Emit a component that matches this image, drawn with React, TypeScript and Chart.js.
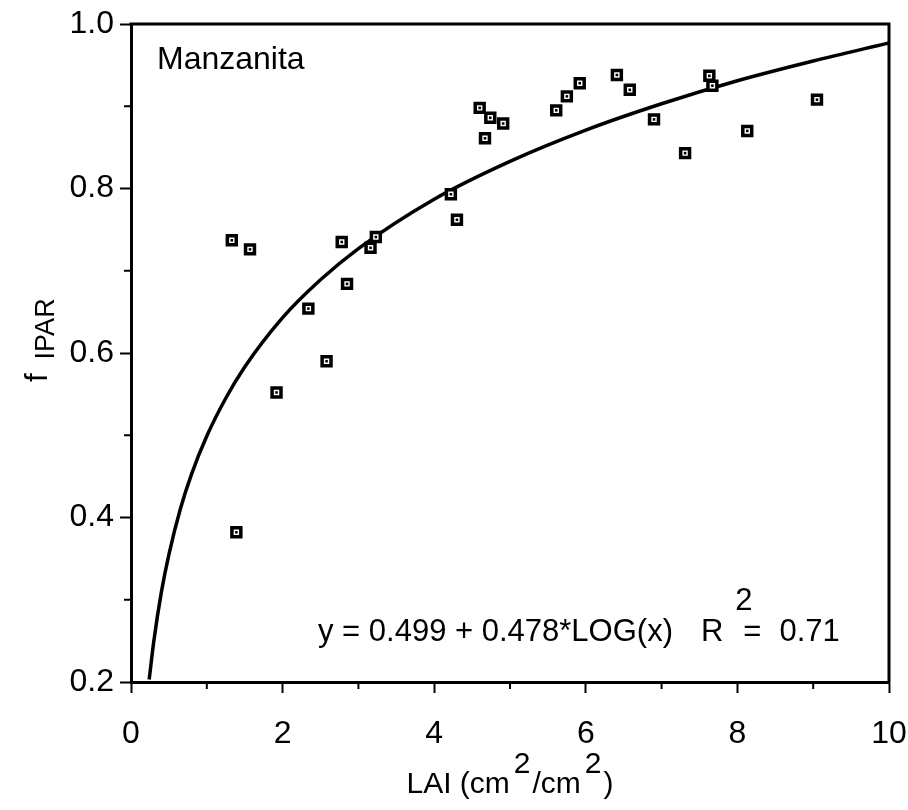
import React, { useEffect, useRef } from "react";
import { Chart, registerables } from "chart.js";

Chart.register(...registerables);

const FONT = "'Liberation Sans', Arial, Helvetica, sans-serif";

const laiValues = [1.33, 1.57, 1.39, 1.92, 2.34, 2.58, 2.78, 2.85, 3.16, 3.23, 4.22, 4.3, 4.6, 4.67, 4.74, 4.91, 5.61, 5.75, 5.92, 6.41, 6.58, 6.9, 7.31, 7.63, 7.67, 8.13, 9.05];
const fiparValues = [0.737, 0.726, 0.382, 0.552, 0.654, 0.59, 0.735, 0.684, 0.728, 0.741, 0.793, 0.762, 0.898, 0.861, 0.886, 0.879, 0.895, 0.912, 0.928, 0.938, 0.92, 0.884, 0.843, 0.937, 0.925, 0.87, 0.908];

// Fitted curve
const fitX = [0.24, 0.3, 0.4, 0.5, 0.65, 0.8, 1, 1.25, 1.5, 2, 2.5, 3, 4, 5, 6, 7, 8, 9, 10];
const fitY = [0.203, 0.249, 0.309, 0.355, 0.41, 0.453, 0.499, 0.545, 0.583, 0.643, 0.689, 0.727, 0.787, 0.833, 0.871, 0.903, 0.931, 0.955, 0.977];

// Axes
const xMin = 0;
const xMax = 10;
const yMin = 0.2;
const yMax = 1.0;
const xMinorTicks = [1, 3, 5, 7, 9];
const yMinorTicks = [0.3, 0.5, 0.7, 0.9];

// Texts
const speciesLabel = "Manzanita";
const equationText = "y = 0.499 + 0.478*LOG(x)";
const r2Label = "R";
const r2Eq = "=";
const r2Value = "0.71";

const framePlugin = {
  id: "frame",
  afterDraw(chart: any) {
    const { ctx, chartArea, scales } = chart;
    const { left, right, top, bottom } = chartArea;
    ctx.save();
    ctx.strokeStyle = "#000";
    ctx.lineWidth = 3;
    ctx.beginPath();
    ctx.moveTo(left - 1.5, top);
    ctx.lineTo(right, top);
    ctx.lineTo(right, bottom + 1.5);
    ctx.stroke();
    ctx.lineWidth = 2;
    ctx.beginPath();
    for (const v of xMinorTicks) {
      const px = scales.x.getPixelForValue(v);
      ctx.moveTo(px, bottom);
      ctx.lineTo(px, bottom + 7);
    }
    for (const v of yMinorTicks) {
      const py = scales.y.getPixelForValue(v);
      ctx.moveTo(left, py);
      ctx.lineTo(left - 7, py);
    }
    ctx.stroke();
    ctx.restore();
  },
};

const textPlugin = {
  id: "texts",
  afterDraw(chart: any) {
    const { ctx, chartArea } = chart;
    const { left, right, top, bottom } = chartArea;
    ctx.save();
    ctx.fillStyle = "#000";
    ctx.textAlign = "left";
    ctx.textBaseline = "alphabetic";

    // Species label
    ctx.font = `32px ${FONT}`;
    ctx.fillText(speciesLabel, left + 26, top + 45);

    // Equation
    ctx.font = `31px ${FONT}`;
    let ex = left + 187;
    const ey = bottom - 41;
    ctx.fillText(equationText, ex, ey);
    ex += ctx.measureText(equationText).width + 28;
    ctx.fillText(r2Label, ex, ey);
    ex += ctx.measureText(r2Label).width + 12;
    ctx.fillText("2", ex, ey - 31);
    ex += 8;
    ctx.fillText(r2Eq, ex, ey);
    ex += ctx.measureText(r2Eq).width + 18;
    ctx.fillText(r2Value, ex, ey);

    // X title: LAI (cm2/cm2)
    ctx.font = `30px ${FONT}`;
    const parts: [string, number][] = [
      ["LAI (cm", 0],
      ["2", -20],
      ["/cm", 0],
      ["2", -20],
      [")", 0],
    ];
    const gaps = [4, 2, 4, 2, 0];
    let total = 0;
    parts.forEach(([t], i) => (total += ctx.measureText(t).width + gaps[i]));
    let tx = (left + right) / 2 - total / 2;
    const ty = bottom + 111;
    parts.forEach(([t, dy], i) => {
      ctx.fillText(t, tx, ty + dy);
      tx += ctx.measureText(t).width + gaps[i];
    });

    // Y title: f IPAR (rotated)
    ctx.translate(47, 382);
    ctx.rotate(-Math.PI / 2);
    ctx.font = `31px ${FONT}`;
    ctx.fillText("f", 0, 0);
    const fw = ctx.measureText("f").width;
    ctx.font = `27px ${FONT}`;
    ctx.fillText("IPAR", fw + 14, 7);
    ctx.restore();
  },
};

export default function App() {
  const canvasRef = useRef<HTMLCanvasElement | null>(null);

  useEffect(() => {
    const canvas = canvasRef.current;
    if (!canvas) return;
    const points = laiValues.map((x, i) => ({ x, y: fiparValues[i] }));
    const curve = fitX.map((x, i) => ({ x, y: fitY[i] }));

    const chart = new Chart(canvas, {
      type: "scatter",
      data: {
        datasets: [
          {
            label: "fit",
            data: curve,
            showLine: true,
            borderColor: "#000",
            borderWidth: 3.5,
            pointRadius: 0,
            cubicInterpolationMode: "monotone",
            fill: false,
            order: 3,
          } as any,
          {
            label: "obs",
            data: points,
            pointStyle: "rect",
            pointRadius: 6.3,
            pointBorderWidth: 3.5,
            pointBorderColor: "#000",
            pointBackgroundColor: "#fff",
            order: 2,
          },
          {
            label: "obs-dot",
            data: points,
            pointStyle: "rect",
            pointRadius: 1.8,
            pointBorderWidth: 0,
            pointBackgroundColor: "#000",
            order: 1,
          },
        ],
      },
      options: {
        responsive: false,
        animation: false,
        devicePixelRatio: 1,
        layout: { padding: { top: 24, right: 19, left: 0, bottom: 0 } },
        plugins: {
          legend: { display: false },
          tooltip: { enabled: false },
        },
        scales: {
          x: {
            type: "linear",
            min: xMin,
            max: xMax,
            afterFit: (s: any) => {
              s.height = 128;
              s.paddingLeft = 0;
              s.paddingRight = 0;
            },
            ticks: {
              stepSize: 1,
              autoSkip: false,
              maxRotation: 0,
              color: "#000",
              padding: 22,
              font: { family: FONT, size: 32 },
              callback: (v: any) => (Math.round(v) % 2 === 0 ? String(v) : ""),
            },
            grid: {
              drawOnChartArea: false,
              drawTicks: true,
              tickLength: 11,
              tickWidth: 2,
              tickColor: (c: any) =>
                c.tick && Math.round(c.tick.value) % 2 === 0 ? "#000" : "rgba(0,0,0,0)",
            },
            border: { display: true, color: "#000", width: 3 },
          },
          y: {
            type: "linear",
            min: yMin,
            max: yMax,
            afterFit: (s: any) => {
              s.width = 131;
              s.paddingTop = 0;
              s.paddingBottom = 0;
            },
            ticks: {
              stepSize: 0.1,
              autoSkip: false,
              color: "#000",
              padding: 6,
              font: { family: FONT, size: 32 },
              callback: (v: any) => {
                const k = Math.round(v * 10);
                return k % 2 === 0 ? (k / 10).toFixed(1) : "";
              },
            },
            grid: {
              drawOnChartArea: false,
              drawTicks: true,
              tickLength: 11,
              tickWidth: 2,
              tickColor: (c: any) =>
                c.tick && Math.round(c.tick.value * 10) % 2 === 0 ? "#000" : "rgba(0,0,0,0)",
            },
            border: { display: true, color: "#000", width: 3 },
          },
        },
      },
      plugins: [framePlugin, textPlugin],
    });

    return () => chart.destroy();
  }, []);

  return (
    <div style={{ position: "absolute", left: 0, top: 0, width: 908, height: 810, background: "#fff" }}>
      <canvas ref={canvasRef} width={908} height={810} style={{ display: "block" }} />
    </div>
  );
}
